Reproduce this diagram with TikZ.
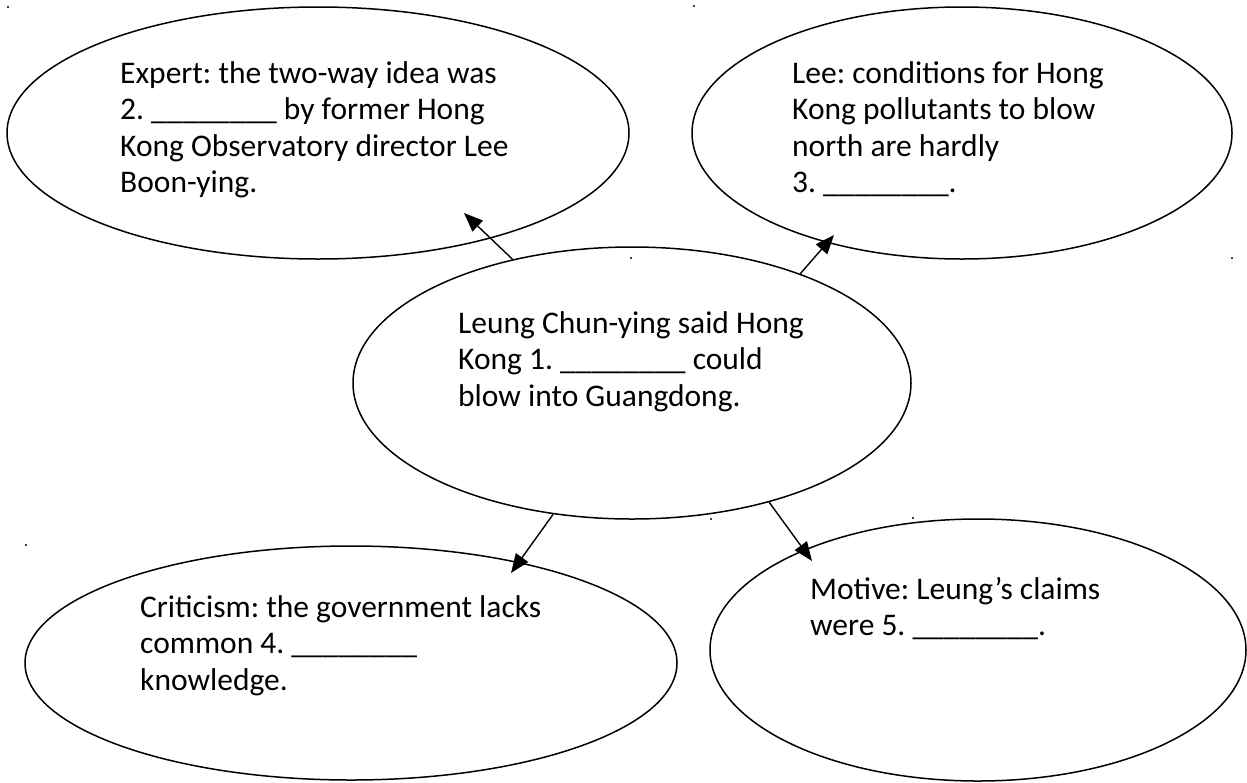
\documentclass[tikz,border=0pt]{standalone}
\usepackage{fontspec}
\setmainfont{Carlito}
\usetikzlibrary{shapes.geometric,arrows.meta}
\frenchspacing
\begin{document}
\begin{tikzpicture}[x=1pt,y=-1pt,
  bubble/.style={draw, ellipse, line width=1.5pt, inner sep=0pt},
  txt/.style={anchor=base west, inner sep=0pt, font=\frenchspacing\fontsize{31.5}{36.5}\selectfont},
  link/.style={line width=1.4pt, -{Triangle[length=19pt,width=15pt]}},
  speck/.style={fill=black}]
\useasboundingbox (0,0) rectangle (1247,782);

% bubbles
\node[bubble, minimum width=622pt, minimum height=252pt] (e1) at (318,133) {};
\node[bubble, minimum width=540pt, minimum height=252pt] (e2) at (962,133) {};
\node[bubble, minimum width=558pt, minimum height=272pt] (c)  at (632,383) {};
\node[bubble, minimum width=652pt, minimum height=234pt] (e4) at (351,663) {};
\node[bubble, minimum width=536pt, minimum height=262pt] (e5) at (978,650) {};

% texts
\node[txt] (t1) at (120,83) {\begin{tabular}[t]{@{}l@{}}Expert: the two-way idea was\\2. \_\_\_\_\_\_\_\_ by former Hong\\Kong Observatory director Lee\\Boon-ying.\end{tabular}};
\node[txt] (t2) at (792,83) {\begin{tabular}[t]{@{}l@{}}Lee: conditions for Hong\\Kong pollutants to blow\\north are hardly\\3. \_\_\_\_\_\_\_\_.\end{tabular}};
\node[txt] (t3) at (458,333) {\begin{tabular}[t]{@{}l@{}}Leung Chun-ying said Hong\\Kong 1. \_\_\_\_\_\_\_\_ could\\blow into Guangdong.\end{tabular}};
\node[txt] (t4) at (140,617) {\begin{tabular}[t]{@{}l@{}}Criticism: the government lacks\\common 4. \_\_\_\_\_\_\_\_\\knowledge.\end{tabular}};
\node[txt] (t5) at (810,599) {\begin{tabular}[t]{@{}l@{}}Motive: Leung’s claims\\were 5. \_\_\_\_\_\_\_\_.\end{tabular}};

% arrow tips
\coordinate (p1) at (464,213);
\coordinate (p2) at (834,235);
\coordinate (p4) at (511,573);
\coordinate (p5) at (812,561);

\draw[link] (c.134.5) -- (p1);
\draw[link] (c.33) -- (p2);
\draw[link] (c.239.4) -- (p4);
\draw[link] (c.319.6) -- (p5);

% stray specks
\fill[speck] (8,7) circle (1.1pt);
\fill[speck] (694,6) circle (1.1pt);
\fill[speck] (631,258) circle (1.1pt);
\fill[speck] (1232,258) circle (1.1pt);
\fill[speck] (26,545) circle (1.1pt);
\fill[speck] (711,519) circle (1.1pt);
\fill[speck] (913,518) circle (1.1pt);
\end{tikzpicture}
\end{document}
